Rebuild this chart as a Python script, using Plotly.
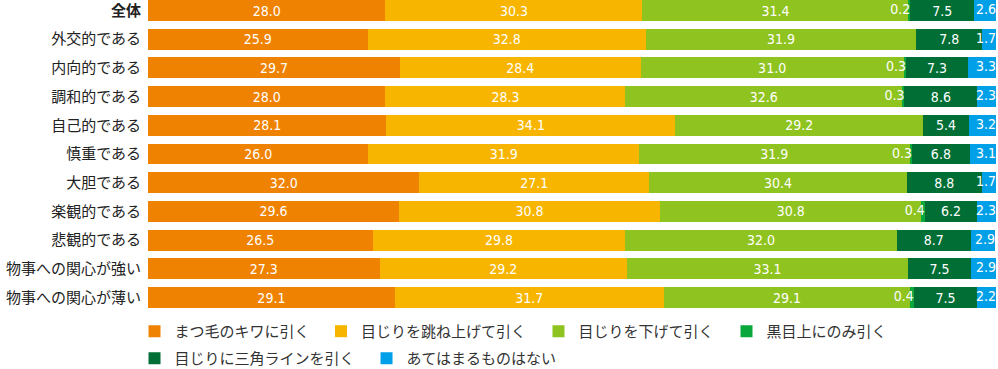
import plotly.graph_objects as go
import numpy as np

categories = ["<b>全体</b>", "外交的である", "内向的である", "調和的である", "自己的である", "慎重である",
              "大胆である", "楽観的である", "悲観的である", "物事への関心が強い", "物事への関心が薄い"]
series_names = ["まつ毛のキワに引く", "目じりを跳ね上げて引く", "目じりを下げて引く",
                "黒目上にのみ引く", "目じりに三角ラインを引く", "あてはまるものはない"]
s_matsuge = [28.0, 25.9, 29.7, 28.0, 28.1, 26.0, 32.0, 29.6, 26.5, 27.3, 29.1]
s_hane = [30.3, 32.8, 28.4, 28.3, 34.1, 31.9, 27.1, 30.8, 29.8, 29.2, 31.7]
s_sage = [31.4, 31.9, 31.0, 32.6, 29.2, 31.9, 30.4, 30.8, 32.0, 33.1, 29.1]
s_kurome = [0.2, 0.0, 0.3, 0.3, 0.0, 0.3, 0.0, 0.4, 0.0, 0.0, 0.4]
s_sankaku = [7.5, 7.8, 7.3, 8.6, 5.4, 6.8, 8.8, 6.2, 8.7, 7.5, 7.5]
s_none = [2.6, 1.7, 3.3, 2.3, 3.2, 3.1, 1.7, 2.3, 2.9, 2.9, 2.2]

colors = ["#EF8200", "#F8B500", "#8FC31F", "#0AA73C", "#006E35", "#00A0E9"]
series = [s_matsuge, s_hane, s_sage, s_kurome, s_sankaku, s_none]

label_font = dict(family="DejaVu Sans Condensed", size=14, color="white")
legend_ids = ["legend", "legend2", "legend3", "legend4", "legend5", "legend6"]

fig = go.Figure()
for i, (name, vals, col) in enumerate(zip(series_names, series, colors)):
    centered = i in (0, 1, 2, 4)
    fig.add_trace(go.Bar(
        y=categories, x=vals, name=name, orientation="h",
        marker=dict(color=col, line=dict(width=0)),
        text=[f"{v:.1f}" for v in vals] if centered else None,
        textposition="inside" if centered else "none",
        insidetextanchor="middle", textangle=0, constraintext="none",
        textfont=label_font, hoverinfo="skip",
        legend=legend_ids[i],
    ))

arr = np.array(series)
cum4 = arr[:4].sum(axis=0)
cum6 = arr.sum(axis=0)
k_idx = [j for j, v in enumerate(s_kurome) if v > 0]
fig.add_trace(go.Scatter(
    y=[categories[j] for j in k_idx], x=[cum4[j] for j in k_idx],
    text=[f"{s_kurome[j]:.1f}" for j in k_idx], mode="text",
    textposition="middle left", textfont=label_font, showlegend=False,
    hoverinfo="skip", cliponaxis=False,
))
fig.add_trace(go.Scatter(
    y=categories, x=[min(c, 100.0) for c in cum6],
    text=[f"{v:.1f}" for v in s_none], mode="text",
    textposition="middle left", textfont=label_font, showlegend=False,
    hoverinfo="skip", cliponaxis=False,
))

legend_common = dict(orientation="h", xanchor="left", yanchor="top",
                     font=dict(size=15, color="#333333"), traceorder="normal",
                     bgcolor="rgba(0,0,0,0)")
legend_x = [-0.0159, 0.2040, 0.4605, 0.6822, -0.0159, 0.2577]
legend_y = [-0.016, -0.016, -0.016, -0.016, -0.103, -0.103]
legend_layout = {lid: dict(x=lx, y=ly, **legend_common)
                 for lid, lx, ly in zip(legend_ids, legend_x, legend_y)}

fig.update_layout(
    width=998, height=369,
    barmode="stack", bargap=0.27,
    margin=dict(l=148, r=2, t=0, b=59, autoexpand=False),
    plot_bgcolor="white", paper_bgcolor="white",
    font=dict(family="Noto Sans CJK JP", size=15, color="#333333"),
    xaxis=dict(range=[0, 100], visible=False, fixedrange=True),
    yaxis=dict(range=[10.435, -0.366], showgrid=False, zeroline=False,
               ticks="", ticklabelstandoff=6, tickfont=dict(size=15, color="#222222"),
               automargin=False, fixedrange=True),
    showlegend=True,
    **legend_layout,
)
fig.write_html("out.html", config={"displayModeBar": False},
               post_script="document.body.style.margin='0';document.body.style.overflow='hidden';")
